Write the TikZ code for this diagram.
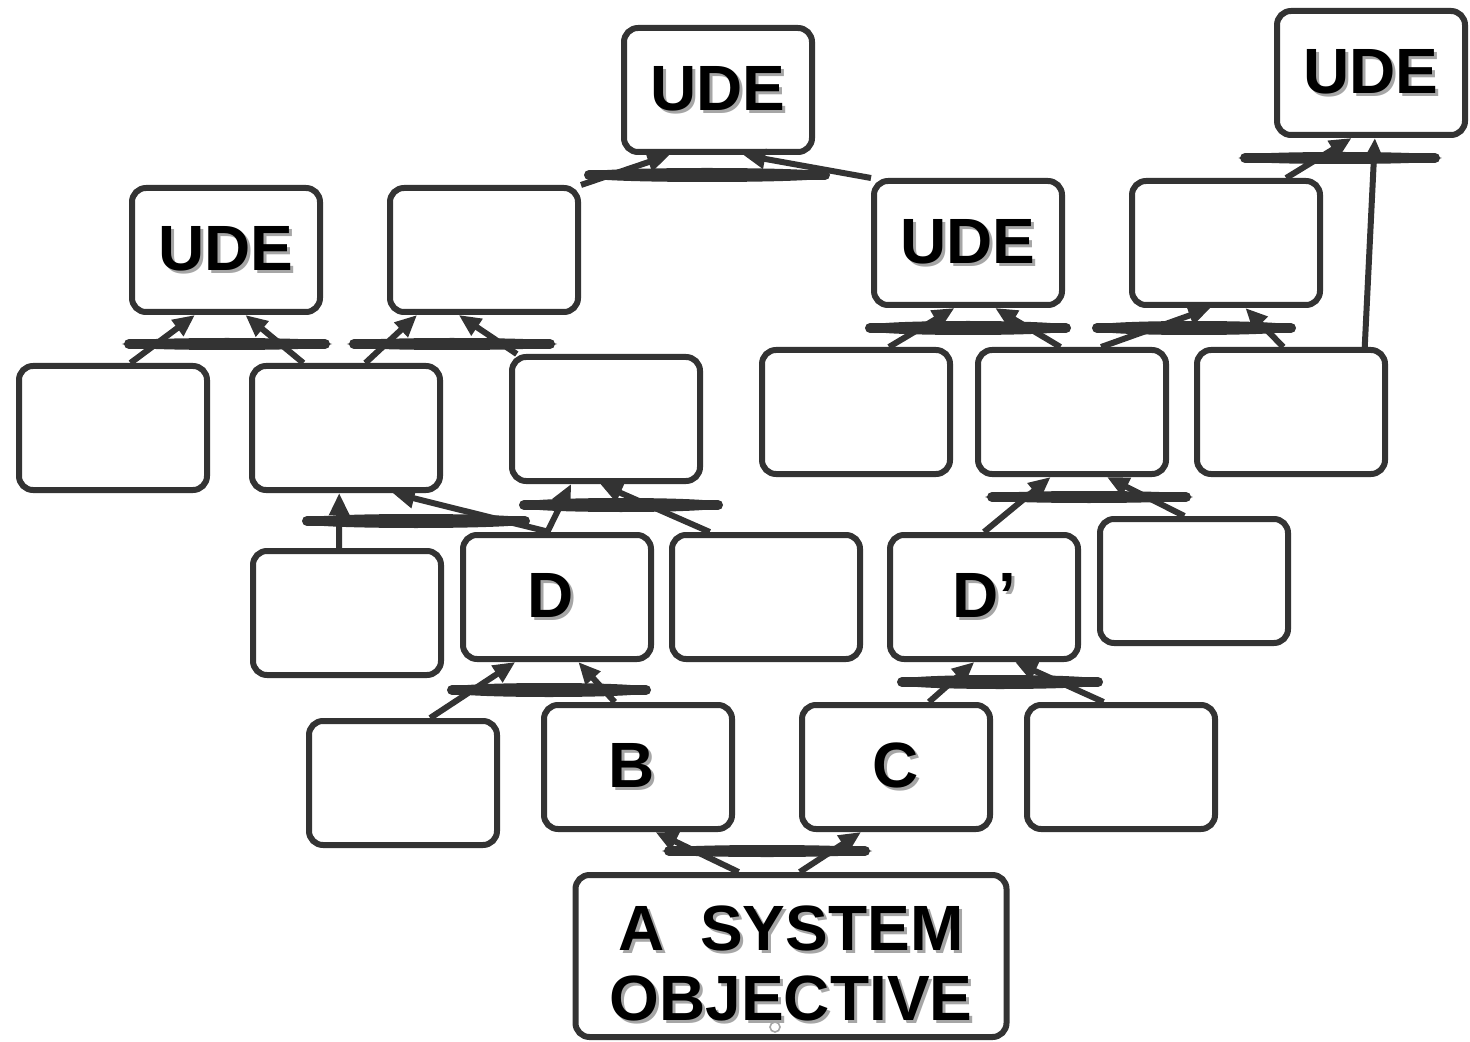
\documentclass[tikz,border=0pt]{standalone}
\usepackage{fontspec}
\setmainfont{Liberation Sans}
\usetikzlibrary{calc,arrows.meta,shapes.geometric}

\definecolor{linegray}{HTML}{333333}
\definecolor{shadowgray}{HTML}{A6A6A6}

% bold label with a grey drop shadow
\newcommand{\shadowed}[1]{\makebox[0pt][l]{\kern1.5pt\raisebox{-1.5pt}{\textcolor{shadowgray}{#1}}}#1}

\tikzset{
  box/.style={draw=linegray, line width=3pt, rounded corners=7pt, fill=white,
    minimum width=94pt, minimum height=62pt, inner sep=0pt,
    font=\fontsize{32}{35}\selectfont\bfseries},
  andlink/.style={ellipse, fill=linegray, draw=linegray, line width=3pt,
    inner sep=0pt, minimum height=4pt},
  cause/.style={draw=linegray, line width=3pt, -{Triangle[length=11pt,width=9.5pt]}},
}

\begin{document}
\begin{tikzpicture}[x=0.5pt,y=-0.5pt]
\useasboundingbox (0,0) rectangle (1470,1042);

\node[box] (b1) at (718,90) {\shadowed{UDE}};
\node[box] (b2) at (1371,73) {\shadowed{UDE}};
\node[box] (b3) at (226,250) {\shadowed{UDE}};
\node[box] (b4) at (484,250) {};
\node[box] (b5) at (968,243) {\shadowed{UDE}};
\node[box] (b6) at (1226,243) {};
\node[box] (b7) at (113,428) {};
\node[box] (b8) at (346,428) {};
\node[box] (b9) at (606,419) {};
\node[box] (b10) at (856,412) {};
\node[box] (b11) at (1072,412) {};
\node[box] (b12) at (1291,412) {};
\node[box] (b13) at (347,613) {};
\node[box] (b14) at (557,597) {\kern-6pt\shadowed{D}};
\node[box] (b15) at (766,597) {};
\node[box] (b16) at (984,597) {\shadowed{D'}};
\node[box] (b17) at (1194,581) {};
\node[box] (b18) at (403,783) {};
\node[box] (b19) at (638,767) {\kern-6pt\shadowed{B}};
\node[box] (b20) at (896,767) {\shadowed{C}};
\node[box] (b21) at (1121,767) {};
\node[box, minimum width=215.5pt, minimum height=81pt,
  label={[yshift=-4.5pt, align=center, font=\fontsize{32}{35}\selectfont\bfseries]center:\shadowed{A\ \ SYSTEM}\\\shadowed{OBJECTIVE}}]
  (b22) at (791,956) {};
\draw[shadowgray, line width=0.8pt] (775,1027) circle (2.5pt);

% cause arrows
\draw[cause] (b4.north east) -- ($(b1.south west)!.25!(b1.south east)$);
\draw[cause] (b5.north west) -- ($(b1.south west)!.63!(b1.south east)$);
\draw[cause] ($(b6.north west)!.81!(b6.north east)$) -- ($(b2.south west)!.40!(b2.south east)$);
\draw[cause] ($(b12.north west)!.88!(b12.north east)$) -- ($(b2.south west)!.52!(b2.south east)$);
\draw[cause] ($(b7.north west)!.59!(b7.north east)$) -- ($(b3.south west)!.34!(b3.south east)$);
\draw[cause] ($(b8.north west)!.28!(b8.north east)$) -- ($(b3.south west)!.60!(b3.south east)$);
\draw[cause] ($(b8.north west)!.60!(b8.north east)$) -- ($(b4.south west)!.155!(b4.south east)$);
\draw[cause] ($(b9.north west)!.04!(b9.north east)$) -- ($(b4.south west)!.37!(b4.south east)$);
\draw[cause] ($(b14.north west)!.45!(b14.north east)$) -- ($(b9.south west)!.32!(b9.south east)$);
\draw[cause] ($(b15.north west)!.21!(b15.north east)$) -- ($(b9.south west)!.47!(b9.south east)$);
\draw[cause] ($(b13.north west)!.46!(b13.north east)$) -- ($(b8.south west)!.465!(b8.south east)$);
\draw[cause] ($(b14.north west)!.46!(b14.north east)$) -- ($(b8.south west)!.74!(b8.south east)$);
\draw[cause] ($(b18.north west)!.64!(b18.north east)$) -- ($(b14.south west)!.285!(b14.south east)$);
\draw[cause] ($(b19.north west)!.38!(b19.north east)$) -- ($(b14.south west)!.61!(b14.south east)$);
\draw[cause] ($(b20.north west)!.67!(b20.north east)$) -- ($(b16.south west)!.45!(b16.south east)$);
\draw[cause] ($(b21.north west)!.41!(b21.north east)$) -- ($(b16.south west)!.66!(b16.south east)$);
\draw[cause] ($(b22.north west)!.38!(b22.north east)$) -- ($(b19.south west)!.59!(b19.south east)$);
\draw[cause] ($(b22.north west)!.52!(b22.north east)$) -- ($(b20.south west)!.32!(b20.south east)$);
\draw[cause] ($(b10.north west)!.67!(b10.north east)$) -- ($(b5.south west)!.43!(b5.south east)$);
\draw[cause] ($(b11.north west)!.44!(b11.north east)$) -- ($(b5.south west)!.64!(b5.south east)$);
\draw[cause] ($(b11.north west)!.65!(b11.north east)$) -- ($(b6.south west)!.42!(b6.south east)$);
\draw[cause] ($(b12.north west)!.46!(b12.north east)$) -- ($(b6.south west)!.60!(b6.south east)$);
\draw[cause] ($(b16.north west)!.50!(b16.north east)$) -- ($(b11.south west)!.39!(b11.south east)$);
\draw[cause] ($(b17.north west)!.45!(b17.north east)$) -- ($(b11.south west)!.68!(b11.south east)$);

% AND connectors
\node[andlink, minimum width=115pt] (j1) at (707,175) {};
\node[andlink, minimum width=92pt, minimum height=3pt] (j2) at (1340,158) {};
\node[andlink, minimum width=95pt, minimum height=3pt] (j3) at (227,344) {};
\node[andlink, minimum width=95pt, minimum height=3pt] (j4) at (452,344) {};
\node[andlink, minimum width=94pt] (j5) at (621,505) {};
\node[andlink, minimum width=106pt] (j6) at (416,521) {};
\node[andlink, minimum width=94pt] (j7) at (549,690) {};
\node[andlink, minimum width=95pt] (j8) at (1000,682) {};
\node[andlink, minimum width=95pt, minimum height=3pt] (j9) at (767,851) {};
\node[andlink, minimum width=95pt] (j10) at (968,328) {};
\node[andlink, minimum width=94pt] (j11) at (1194,328) {};
\node[andlink, minimum width=94pt, minimum height=3pt] (j12) at (1089,497) {};
\foreach \j in {1,...,12}
  \draw[linegray, line width=5pt, line cap=round] (j\j.west) -- (j\j.east);
\end{tikzpicture}
\end{document}
